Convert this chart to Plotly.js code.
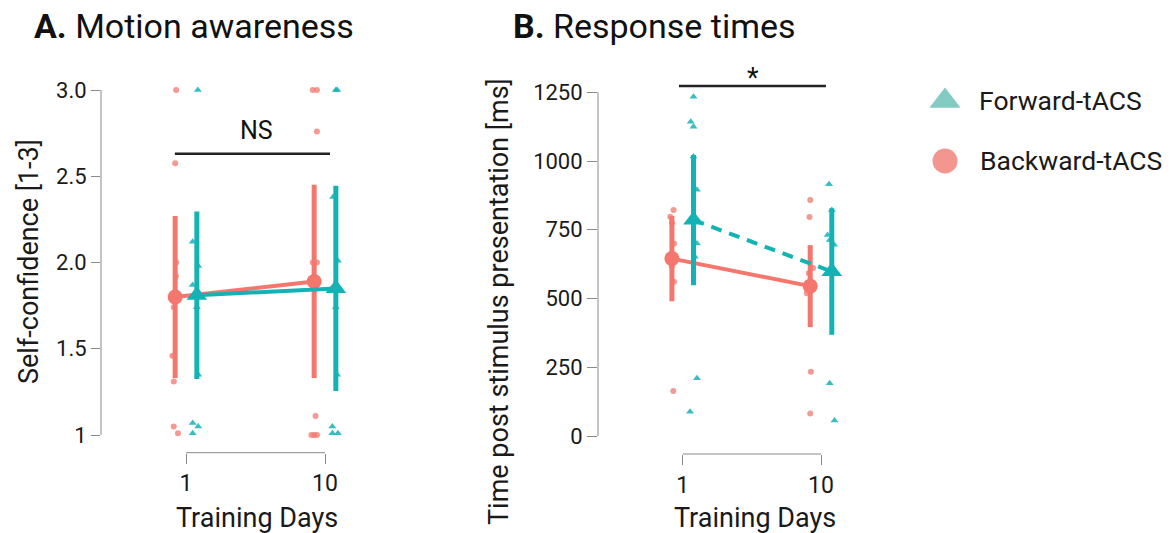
<!DOCTYPE html>
<html>
<head>
<meta charset="utf-8">
<script src="https://cdn.plot.ly/plotly-3.0.1.min.js"></script>
<style>html,body{margin:0;padding:0;background:#fff;}#chart{width:1172px;height:533px;}</style>
</head>
<body>
<div id="chart"></div>
<script>
// ---------- data ----------
const dayLabels = ['1', '10'];
const dayPos = [0, 1];

// Panel A: self-confidence [1-3]
const confBackDay1 = [3.0, 2.575, 2.0, 1.92, 1.74, 1.46, 1.31, 1.05, 1.01];
const confBackDay1Jit = [0.007, 0, 0.007, 0.005, -0.01, -0.02, -0.01, -0.01, 0.02];
const confFwdDay1 = [3.0, 2.12, 1.98, 1.87, 1.74, 1.35, 1.07, 1.05, 1.01];
const confFwdDay1Jit = [0.007, -0.03, 0.01, -0.03, 0, 0.01, -0.03, 0.01, -0.03];
const confBackDay10 = [3.0, 3.0, 2.76, 2.0, 2.0, 1.11, 1.0, 1.0, 1.0];
const confBackDay10Jit = [-0.01, 0.02, 0.02, -0.01, 0.02, 0.01, -0.02, 0, 0.02];
const confFwdDay10 = [3.0, 3.0, 2.38, 2.01, 1.74, 1.35, 1.05, 1.01, 1.01];
const confFwdDay10Jit = [0, 0.01, -0.02, 0.015, 0, 0.01, -0.025, -0.025, 0.015];
const confBackMean = [1.80, 1.89];
const confBackSD = [0.47, 0.56];
const confFwdMean = [1.81, 1.85];
const confFwdSD = [0.485, 0.595];

// Panel B: response times [ms]
const rtBackDay1 = [822, 797, 775, 700, 616, 561, 164];
const rtBackDay1Jit = [0.012, -0.012, 0, 0.015, 0, 0.015, 0.01];
const rtFwdDay1 = [1234, 1143, 1125, 1016, 895, 700, 652, 210, 88];
const rtFwdDay1Jit = [0, -0.02, 0, 0, 0.025, 0.025, 0.01, 0.025, -0.025];
const rtBackDay10 = [858, 796, 611, 592, 519, 234, 82];
const rtBackDay10Jit = [0, -0.005, 0.02, -0.01, -0.025, 0.005, 0];
const rtFwdDay10 = [915, 822, 731, 713, 695, 192, 56];
const rtFwdDay10Jit = [-0.02, 0, -0.03, -0.015, 0.017, -0.015, 0.02];
const rtBackMean = [645, 545];
const rtBackSD = [155, 149];
const rtFwdMean = [785, 598];
const rtFwdSD = [237, 230];

const confTicks = [1, 1.5, 2.0, 2.5, 3.0];
const confTickText = ['1', '1.5', '2.0', '2.5', '3.0'];
const rtTicks = [0, 250, 500, 750, 1000, 1250];
const rtTickText = ['0', '250', '500', '750', '1000', '1250'];

const seriesNames = ['Forward-tACS', 'Backward-tACS'];

// ---------- styling ----------
const TEAL = '#13B3B5';
const SALMON = '#F4766C';
const TEAL_PT = 'rgba(19,179,181,0.85)';
const SALMON_PT = 'rgba(240,120,110,0.75)';
const DODGE = 0.078;
const FONT = 'Roboto, "Open Sans", sans-serif';
const TXT = '#1a1a1a';
const W = 1172, H = 533;

function px(x) { return x / W; }
function py(y) { return 1 - y / H; }

const traces = [];

function addPoints(vals, jit, day, sign, color, symbol, xa, ya, size) {
  traces.push({
    type: 'scatter', mode: 'markers', xaxis: xa, yaxis: ya, showlegend: false, hoverinfo: 'skip',
    x: vals.map((v, i) => dayPos[day] + sign * DODGE + jit[i]),
    y: vals,
    marker: { color: color, symbol: symbol, size: size, line: { width: 0 } }
  });
}

function addMean(mean, sd, sign, color, symbol, msize, dash, xa, ya) {
  traces.push({
    type: 'scatter', mode: 'lines+markers', xaxis: xa, yaxis: ya, showlegend: false, hoverinfo: 'skip',
    x: dayPos.map(d => d + sign * DODGE),
    y: mean,
    line: { color: color, width: 4, dash: dash },
    marker: { color: color, symbol: symbol, size: msize, line: { width: 0 } },
    error_y: { type: 'data', array: sd, visible: true, color: color, thickness: 5, width: 0 }
  });
}

// Panel A
addPoints(confBackDay1, confBackDay1Jit, 0, -1, SALMON_PT, 'circle', 'x', 'y', 6);
addPoints(confBackDay10, confBackDay10Jit, 1, -1, SALMON_PT, 'circle', 'x', 'y', 6);
addPoints(confFwdDay1, confFwdDay1Jit, 0, 1, TEAL_PT, 'triangle-up', 'x', 'y', 7);
addPoints(confFwdDay10, confFwdDay10Jit, 1, 1, TEAL_PT, 'triangle-up', 'x', 'y', 7);
addMean(confBackMean, confBackSD, -1, SALMON, 'circle', 15, 'solid', 'x', 'y');
addMean(confFwdMean, confFwdSD, 1, TEAL, 'triangle-up', 18, 'solid', 'x', 'y');

// Panel B
addPoints(rtBackDay1, rtBackDay1Jit, 0, -1, SALMON_PT, 'circle', 'x2', 'y2', 6);
addPoints(rtBackDay10, rtBackDay10Jit, 1, -1, SALMON_PT, 'circle', 'x2', 'y2', 6);
addPoints(rtFwdDay1, rtFwdDay1Jit, 0, 1, TEAL_PT, 'triangle-up', 'x2', 'y2', 7);
addPoints(rtFwdDay10, rtFwdDay10Jit, 1, 1, TEAL_PT, 'triangle-up', 'x2', 'y2', 7);
addMean(rtBackMean, rtBackSD, -1, SALMON, 'circle', 15, 'solid', 'x2', 'y2');
addMean(rtFwdMean, rtFwdSD, 1, TEAL, 'triangle-up', 18, '11px,8px', 'x2', 'y2');

// Legend (custom, on its own axis)
traces.push({
  type: 'scatter', mode: 'markers', xaxis: 'x3', yaxis: 'y3', showlegend: false, hoverinfo: 'skip',
  x: [945, 945], y: [101, 161],
  marker: { symbol: ['triangle-up', 'circle'], size: [27, 25], color: ['#4DB5A9', '#EF6A61'], line: { width: 0 } }
});

const AXC = '#8a8a8a';
function xAxis(domain, range) {
  return {
    domain: domain, range: range, tickvals: dayPos, ticktext: dayLabels,
    ticks: 'outside', ticklen: 10, tickwidth: 1, tickcolor: AXC,
    showline: false, showgrid: false, zeroline: false, fixedrange: true,
    tickfont: { family: FONT, size: 23, color: TXT }, ticklabelstandoff: 0
  };
}
function yAxis(domain, range, tv, tt, anchor, len) {
  return {
    domain: domain, range: range, tickvals: tv, ticktext: tt, anchor: anchor,
    ticks: 'outside', ticklen: len, tickwidth: 1, tickcolor: AXC,
    showline: false, showgrid: false, zeroline: false, fixedrange: true,
    tickfont: { family: FONT, size: 22, color: TXT }
  };
}

const layout = {
  width: W, height: H, autosize: false,
  margin: { l: 0, r: 0, t: 0, b: 0 },
  paper_bgcolor: '#fff', plot_bgcolor: 'rgba(0,0,0,0)',
  showlegend: false,
  xaxis: Object.assign(xAxis([px(101), px(360)], [-85 / 139, 1 + 35 / 139]), { anchor: 'y' }),
  yaxis: yAxis([py(452.7), py(60)], [1 - 17.7 / 172.5, 3 + 30 / 172.5], confTicks, confTickText, 'x', 9),
  xaxis2: Object.assign(xAxis([px(598), px(870)], [-84.7 / 138.3, 1 + 49 / 138.3]), { anchor: 'y2' }),
  yaxis2: yAxis([py(454), py(60)], [-18 / 0.275, 376 / 0.275], rtTicks, rtTickText, 'x2', 10),
  xaxis3: { domain: [px(900), 1], range: [900, 1172], visible: false, fixedrange: true, anchor: 'y3' },
  yaxis3: { domain: [py(200), py(60)], range: [200, 60], visible: false, fixedrange: true, anchor: 'x3' },
  shapes: [
    // axis frame lines spanning the tick ranges
    { type: 'line', xref: 'x', yref: 'y domain', x0: dayPos[0], x1: dayPos[1], y0: 0, y1: 0, line: { color: AXC, width: 1 } },
    { type: 'line', xref: 'x domain', yref: 'y', x0: 0, x1: 0, y0: confTicks[0], y1: confTicks[confTicks.length - 1], line: { color: AXC, width: 1 } },
    { type: 'line', xref: 'x2', yref: 'y2 domain', x0: dayPos[0], x1: dayPos[1], y0: 0, y1: 0, line: { color: AXC, width: 1 } },
    { type: 'line', xref: 'x2 domain', yref: 'y2', x0: 0, x1: 0, y0: rtTicks[0], y1: rtTicks[rtTicks.length - 1], line: { color: AXC, width: 1 } },
    // significance brackets
    { type: 'line', xref: 'x', yref: 'y', x0: -0.08, x1: 1.036, y0: 2.63, y1: 2.63, line: { color: '#222', width: 2.5 } },
    { type: 'line', xref: 'x2', yref: 'y2', x0: -0.027, x1: 1.036, y0: 1273, y1: 1273, line: { color: '#222', width: 2.5 } }
  ],
  annotations: [
    { xref: 'paper', yref: 'paper', x: px(32), y: py(26), xanchor: 'left', yanchor: 'middle', showarrow: false,
      text: '<b>A.</b> Motion awareness', font: { family: FONT, size: 34, color: '#111' } },
    { xref: 'paper', yref: 'paper', x: px(511), y: py(26), xanchor: 'left', yanchor: 'middle', showarrow: false,
      text: '<b>B.</b> Response times', font: { family: FONT, size: 34, color: '#111' } },
    { xref: 'paper', yref: 'paper', x: px(29), y: py(262), xanchor: 'center', yanchor: 'middle', showarrow: false, textangle: -90,
      text: 'Self-confidence [1-3]', font: { family: FONT, size: 27, color: TXT } },
    { xref: 'paper', yref: 'paper', x: px(499), y: py(302), xanchor: 'center', yanchor: 'middle', showarrow: false, textangle: -90,
      text: 'Time post stimulus presentation [ms]', font: { family: FONT, size: 27, color: TXT } },
    { xref: 'paper', yref: 'paper', x: px(257), y: py(518), xanchor: 'center', yanchor: 'middle', showarrow: false,
      text: 'Training Days', font: { family: FONT, size: 27, color: TXT } },
    { xref: 'paper', yref: 'paper', x: px(755), y: py(518), xanchor: 'center', yanchor: 'middle', showarrow: false,
      text: 'Training Days', font: { family: FONT, size: 27, color: TXT } },
    { xref: 'x', yref: 'y', x: 0.51, y: 2.768, xanchor: 'center', yanchor: 'middle', showarrow: false,
      text: 'NS', font: { family: FONT, size: 25, color: '#111' } },
    { xref: 'x2', yref: 'y2', x: 0.508, y: 1300, xanchor: 'center', yanchor: 'middle', showarrow: false,
      text: '*', font: { family: FONT, size: 27, color: '#111' } },
    { xref: 'x3', yref: 'y3', x: 977, y: 101, xanchor: 'left', yanchor: 'middle', showarrow: false,
      text: seriesNames[0], font: { family: FONT, size: 26.5, color: TXT } },
    { xref: 'x3', yref: 'y3', x: 978, y: 161, xanchor: 'left', yanchor: 'middle', showarrow: false,
      text: seriesNames[1], font: { family: FONT, size: 26.5, color: TXT } }
  ]
};

Plotly.newPlot('chart', traces, layout, { staticPlot: true, displayModeBar: false });
</script>
</body>
</html>
